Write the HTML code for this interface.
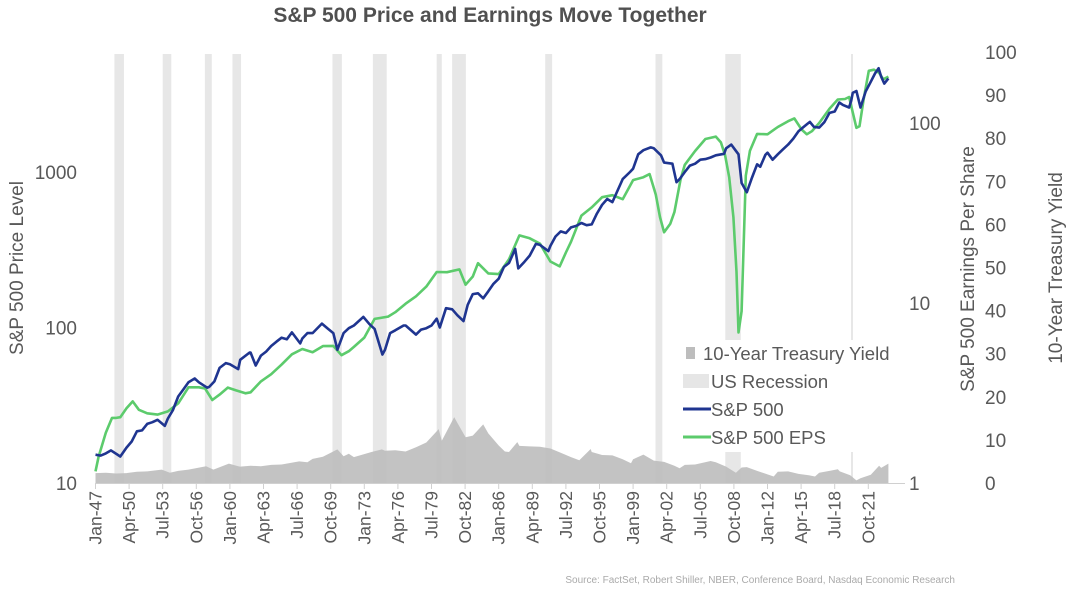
<!DOCTYPE html>
<html><head><meta charset="utf-8"><style>
body{margin:0;background:#fff;}
svg{display:block;font-family:"Liberation Sans",sans-serif;}
</style></head><body>
<svg id="chart" width="1080" height="595" viewBox="0 0 1080 595">
<text x="490" y="22" text-anchor="middle" font-size="21" font-weight="bold" fill="#505050">S&amp;P 500 Price and Earnings Move Together</text>
<g id="rec"></g>
<g id="yld"></g>
<g id="lines"></g>
<line x1="95" y1="483.5" x2="905" y2="483.5" stroke="#d0d0d0"/>
<g id="xt"></g>
<g id="yt"></g>
<text transform="translate(23,268) rotate(-90)" text-anchor="middle" font-size="19" fill="#595959">S&amp;P 500 Price Level</text>
<text transform="translate(974,269) rotate(-90)" text-anchor="middle" font-size="19" fill="#595959">S&amp;P 500 Earnings Per Share</text>
<text transform="translate(1062,268) rotate(-90)" text-anchor="middle" font-size="19" fill="#595959">10-Year Treasury Yield</text>
<g>
<rect x="680" y="340" width="226" height="112" fill="#fff"/>
<rect x="686" y="347" width="9" height="12" fill="#bdbdbd"/>
<text x="703" y="360" font-size="18.5" fill="#595959">10-Year Treasury Yield</text>
<rect x="683" y="374" width="26" height="14" fill="#e6e6e6"/>
<text x="711" y="388" font-size="18.5" fill="#595959">US Recession</text>
<line x1="683" y1="409" x2="711" y2="409" stroke="#1f3590" stroke-width="3"/>
<text x="711" y="416" font-size="18.5" fill="#595959">S&amp;P 500</text>
<line x1="683" y1="437" x2="711" y2="437" stroke="#5ccb6c" stroke-width="3"/>
<text x="711" y="444" font-size="18.5" fill="#595959">S&amp;P 500 EPS</text>
</g>
<text x="955" y="583" text-anchor="end" font-size="10" fill="#aaa">Source: FactSet, Robert Shiller, NBER, Conference Board, Nasdaq Economic Research</text>
</svg>
<script>
const recStart=[1948.83,1953.5,1957.58,1960.25,1969.92,1973.83,1980.0,1981.5,1990.5,2001.17,2007.92,2020.08];
const recEnd=[1949.75,1954.33,1958.25,1961.08,1970.83,1975.17,1980.5,1982.83,1991.17,2001.83,2009.42,2020.25];
const spDates=[1947,1947.5,1948,1948.5,1949.4,1950,1950.5,1951,1951.5,1952,1952.5,1953,1953.7,1954,1954.5,1955,1955.5,1956,1956.6,1957,1957.8,1958,1958.5,1959,1959.6,1960,1960.8,1961,1961.9,1962,1962.5,1963,1963.5,1964,1964.5,1965,1965.5,1966,1966.8,1967,1967.5,1968,1968.9,1969.5,1970,1970.4,1971,1971.5,1972,1972.9,1973.5,1974,1974.75,1975,1975.5,1976,1976.8,1977,1978,1978.5,1979,1979.5,1980,1980.3,1980.9,1981.5,1982,1982.6,1983,1983.5,1984,1984.5,1985,1985.5,1986,1986.5,1987,1987.6,1987.9,1988.5,1989,1989.6,1990,1990.8,1991,1991.5,1992,1992.5,1993,1993.5,1994,1994.5,1995,1995.5,1996,1996.5,1997,1997.5,1998,1998.7,1999,1999.5,2000,2000.7,2001,2001.7,2002,2002.8,2003.2,2003.5,2004,2004.5,2005,2005.5,2006,2006.5,2007,2007.8,2008,2008.5,2008.9,2009.2,2009.5,2010,2010.5,2011,2011.3,2011.8,2012,2012.5,2013,2013.5,2014,2014.5,2015,2015.5,2015.9,2016.1,2016.5,2017,2017.5,2018,2018.5,2018.95,2019.3,2019.9,2020.1,2020.25,2020.6,2021,2021.5,2021.95,2022.4,2022.75,2023,2023.3,2023.7];
const spValues=[15.2,15,15.5,16.2,14.8,16.9,18.5,21.5,21.8,24,24.6,25.5,23.3,26,29.5,36,40,44.5,47,44.4,41,41.5,45,55,59,58,54,62,69,69,57,66,70,76,81,86,84,93,79,85,92,92,106,98,92,72,92,99,103,117,105,98,67,72,92,96,103,103,90,97,99,103,114,100,133,131,120,110,140,164,166,154,171,191,206,245,260,320,240,265,290,345,340,310,335,385,415,405,440,450,470,455,460,540,615,670,640,760,900,1000,1050,1300,1380,1440,1420,1280,1150,1130,860,900,1000,1100,1130,1200,1210,1240,1280,1310,1420,1500,1380,1300,850,740,920,1120,1080,1290,1330,1200,1300,1400,1500,1640,1830,1950,2050,2100,1950,1930,2090,2400,2450,2800,2700,2600,2880,3230,3320,2600,3300,3750,4300,4650,4100,3700,4000,4150,4450];
const epsDates=[1947,1947.3,1948,1948.6,1949,1949.4,1950,1950.6,1951.2,1952,1953,1954,1955,1956,1957,1957.6,1958.3,1959,1959.8,1960.6,1961.5,1962,1963,1964,1965,1966,1967,1968,1969,1970,1970.8,1971.5,1972,1973,1974,1975.3,1976,1977,1978,1979,1980,1981,1982.2,1982.8,1983.5,1984,1985,1986,1987,1988,1989,1990,1991,1991.9,1992.5,1993,1994,1995,1996,1997,1998,1999,2000,2000.6,2001.2,2001.6,2002,2002.6,2003,2003.6,2004,2005,2006,2007,2007.5,2007.9,2008.3,2008.7,2009.0,2009.2,2009.5,2009.9,2010.3,2011,2012,2013,2014,2014.6,2015.3,2015.8,2016.3,2017,2018,2018.8,2019.5,2019.9,2020.2,2020.6,2020.9,2021.3,2021.8,2022.3,2022.8,2023.2,2023.7];
const epsValues=[1.16,1.4,1.9,2.3,2.3,2.32,2.6,2.84,2.55,2.44,2.4,2.5,2.77,3.4,3.4,3.35,2.89,3.1,3.39,3.27,3.15,3.19,3.67,4.02,4.55,5.19,5.55,5.33,5.76,5.78,5.13,5.4,5.7,6.42,8.16,8.4,8.89,9.91,10.89,12.33,14.86,14.82,15.36,12.64,14.03,16.64,14.61,14.48,17.5,23.75,22.87,21.34,17,15.97,19.09,21.89,30.6,33.96,38.73,39.72,37.71,48.17,50,52,40,30,24.69,27.59,32,48.74,58.55,69.93,81.51,84,78,66.18,50,30,14.88,6.86,9,50.97,70,86.95,86.51,95,102.31,106,92,86.53,90,100,120,135,136,139.47,118,94,96,135,195,197.87,190,175,181];
const yDates=[1947,1948,1949,1950,1951,1952,1953.4,1954.2,1955,1956,1957.7,1958.4,1959.9,1960.8,1961,1962,1963,1964,1965,1966.7,1967.5,1968,1969,1970.4,1971,1971.5,1972,1973.7,1974.7,1975,1976,1977,1978,1979,1980.2,1980.5,1981.7,1982,1982.8,1983.5,1984.5,1985,1986,1986.6,1987,1987.8,1988,1989,1990,1991,1992,1993,1993.8,1994.9,1995,1996,1997,1998,1998.8,1999,2000,2001,2002,2003,2003.5,2004,2005,2006.5,2007,2008,2008.95,2009.5,2010,2011,2012,2012.6,2013,2014,2015,2016,2016.6,2017,2018,2018.8,2019,2020,2020.6,2021,2022,2022.8,2023,2023.7];
const yValues=[2.3,2.4,2.2,2.3,2.6,2.7,3.1,2.4,2.8,3.1,3.9,3.1,4.5,3.9,3.8,4,3.9,4.2,4.3,5,4.8,5.6,6.1,7.8,6.2,6.8,6,7.2,7.8,7.5,7.6,7.3,8.3,9.4,12.5,9.8,15.3,14,10.6,11,13.6,11.5,8.7,7.3,7.2,9.5,8.6,8.5,8.4,8,7,6,5.3,7.9,7.2,6.5,6.4,5.5,4.6,5.5,6.6,5.2,4.9,4,3.4,4.2,4.3,5.1,4.8,3.8,2.4,3.6,3.7,2.8,2,1.5,2.6,2.7,2.1,1.8,1.5,2.4,2.8,3.2,2.7,1.8,0.6,1.1,1.9,4,3.5,4.5];
const xTickLabels=["Jan-47","Apr-50","Jul-53","Oct-56","Jan-60","Apr-63","Jul-66","Oct-69","Jan-73","Apr-76","Jul-79","Oct-82","Jan-86","Apr-89","Jul-92","Oct-95","Jan-99","Apr-02","Jul-05","Oct-08","Jan-12","Apr-15","Jul-18","Oct-21"];
const priceTicks=[10,100,1000];
const epsTicks=[1,10,100];
const yieldTicks=[0,10,20,30,40,50,60,70,80,90,100];

const NS="http://www.w3.org/2000/svg";
const X=t=>95.5+(t-1947)*10.338;
const YP=v=>483-(Math.log10(v)-1)*155.5;
const YE=v=>483-Math.log10(v)*180;
const YY=v=>483-v*4.31;
function mk(tag,parent,attrs){const e=document.createElementNS(NS,tag);for(const k in attrs)e.setAttribute(k,attrs[k]);document.getElementById(parent).appendChild(e);return e;}

recStart.forEach((s,i)=>{
  const r=mk('rect','rec',{x:X(s),y:54,width:Math.max(2,X(recEnd[i])-X(s)),height:429,fill:'#e3e3e3','fill-opacity':0.85});
  
  
});
let d='M'+X(yDates[0])+',483';
yDates.forEach((t,i)=>{d+=' L'+X(t).toFixed(1)+','+YY(yValues[i]).toFixed(1);});
d+=' L'+X(yDates[yDates.length-1])+',483 Z';
const ya=mk('path','yld',{d:d,fill:'#bdbdbd','fill-opacity':0.9});



function line(dates,vals,f,col,name){
  let p='';dates.forEach((t,i)=>{p+=(i?' L':'M')+X(t).toFixed(1)+','+f(vals[i]).toFixed(1);});
  const e=mk('path','lines',{d:p,fill:'none',stroke:col,'stroke-width':2.6,'stroke-linejoin':'round'});
  
  
}
line(epsDates,epsValues,YE,'#5ccb6c','eps-line');
line(spDates,spValues,YP,'#1f3590','sp500-line');

xTickLabels.forEach((lab,i)=>{
  const x=95.5+i*33.6;
  const tk=mk('line','xt',{x1:x,y1:483,x2:x,y2:489,stroke:'#d0d0d0'});
  
  
  const t=mk('text','xt',{transform:`translate(${x+6},491) rotate(-90)`,'text-anchor':'end','font-size':17.5,fill:'#595959'});
  t.textContent=lab;
  
  
});
priceTicks.forEach(v=>{
  const t=mk('text','yt',{x:77,y:YP(v)+7,'text-anchor':'end','font-size':19,fill:'#595959'});t.textContent=v;
  
  
});
epsTicks.forEach(v=>{
  const t=mk('text','yt',{x:909,y:YE(v)+7,'font-size':19,fill:'#595959'});t.textContent=v;
  
  
});
yieldTicks.forEach(v=>{
  const t=mk('text','yt',{x:985,y:YY(v)+7,'font-size':19,fill:'#595959'});t.textContent=v;
  
  
});
</script>
</body></html>
